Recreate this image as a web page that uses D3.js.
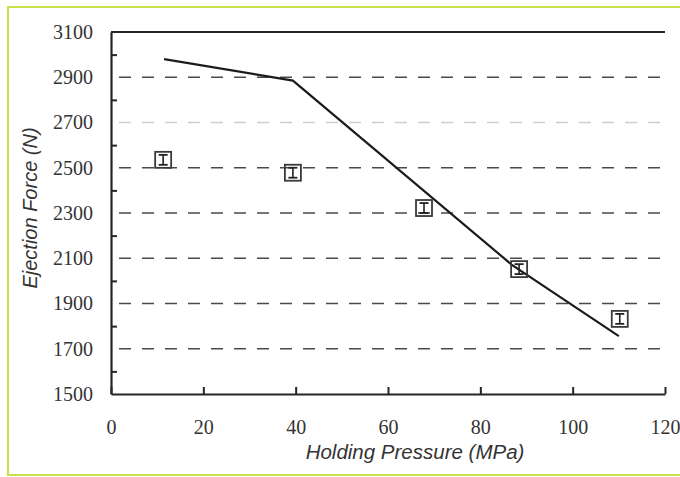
<!DOCTYPE html>
<html>
<head>
<meta charset="utf-8">
<script src="https://cdn.jsdelivr.net/npm/d3@7"></script>
<style>
  body { margin: 0; background: #fff; }
</style>
</head>
<body>
<div id="chart"></div>
<script>
// measured points (holding pressure MPa, ejection force N, error +/-)
var pressure = [11.3, 39.4, 67.8, 88.4, 110.2];
var force = [2535, 2478, 2322, 2052, 1832];
var forceErr = [22, 22, 22, 22, 22];

// fitted line
var lineX = [11.5, 39.4, 87, 110];
var lineY = [2980, 2885, 2068, 1756];

var yTicks = [1500, 1700, 1900, 2100, 2300, 2500, 2700, 2900, 3100];
var yMinor = [1600, 1800, 2000, 2200, 2400, 2600, 2800, 3000];
var xTicks = [0, 20, 40, 60, 80, 100, 120];
var gridVals = [1700, 1900, 2100, 2300, 2500, 2700, 2900];

drawChart();
function drawChart(){
    var W = 680, H = 477;
    var margin = {top: 32, right: 15, bottom: 83, left: 111},
    width = W - margin.left - margin.right,
    height = H - margin.top - margin.bottom;

    var root = d3.select("#chart")
      .append("svg")
        .attr("width", W)
        .attr("height", H);

    // greenish page border
    root.append("rect")
        .attr("x", 8).attr("y", 7)
        .attr("width", W + 10).attr("height", H - 9)
        .attr("fill", "none")
        .attr("stroke", "#c5e04a")
        .attr("stroke-width", 2);

    var svg = root.append("g")
        .attr("transform", "translate(" + margin.left + "," + margin.top + ")");

    var x = d3.scaleLinear().domain([0, 120]).range([0, width]);
    var y = d3.scaleLinear().domain([1500, 3100]).range([height, 0]);

    // dashed gridlines
    svg.append("g")
        .selectAll("line")
        .data(gridVals)
        .enter()
        .append("line")
        .attr("x1", 0).attr("x2", width)
        .attr("y1", function(d){ return y(d); })
        .attr("y2", function(d){ return y(d); })
        .attr("stroke", function(d){ return d == 2700 ? "#c9ced8" : "#4a4a4a"; })
        .attr("stroke-width", 1.3)
        .attr("stroke-dasharray", "12,11")
        .attr("stroke-dashoffset", -8);

    // top line at 3100
    svg.append("line")
        .attr("x1", 0).attr("x2", width)
        .attr("y1", y(3100)).attr("y2", y(3100))
        .attr("stroke", "#2a2424").attr("stroke-width", 2.2);

    // X axis (ticks point up)
    var xAxis = svg.append("g")
        .attr("transform", "translate(0," + height + ")")
        .call(d3.axisBottom(x).tickValues(xTicks).tickSize(-7).tickPadding(33).tickSizeOuter(0));

    // Y axis (major ticks hidden, minor ticks point inward)
    var yAxis = svg.append("g")
        .call(d3.axisLeft(y).tickValues(yTicks).tickFormat(d3.format("d")).tickSize(0).tickPadding(18));

    svg.append("g")
        .call(d3.axisLeft(y).tickValues(yMinor).tickSize(-6).tickFormat(""))
        .call(function(g){ g.select(".domain").remove(); });

    svg.selectAll(".domain")
        .attr("stroke", "#2a2424").attr("stroke-width", 2.2);
    svg.selectAll(".tick line")
        .attr("stroke", "#2a2424").attr("stroke-width", 2);

    svg.selectAll(".tick text")
        .attr("font-family", "'Liberation Serif', 'Times New Roman', serif")
        .attr("font-size", 20)
        .attr("fill", "#333");
    xAxis.selectAll(".tick text").attr("dy", "0.35em");

    // fitted line
    var pts = lineX.map(function(d, i){ return [d, lineY[i]]; });
    svg.append("path")
        .datum(pts)
        .attr("fill", "none")
        .attr("stroke", "#1c1c1c")
        .attr("stroke-width", 2.2)
        .attr("d", d3.line()
            .x(function(d){ return x(d[0]); })
            .y(function(d){ return y(d[1]); }));

    // markers: open square with error bar inside
    var data = pressure.map(function(d, i){ return {p: d, f: force[i], e: forceErr[i]}; });
    var m = svg.append("g")
        .selectAll("g")
        .data(data)
        .enter()
        .append("g")
        .attr("transform", function(d){ return "translate(" + x(d.p) + "," + y(d.f) + ")"; });

    m.append("rect")
        .attr("x", -8).attr("y", -8)
        .attr("width", 16).attr("height", 16)
        .attr("fill", "none")
        .attr("stroke", "#3a3a3a")
        .attr("stroke-width", 1.8);

    m.append("line")
        .attr("x1", 0).attr("x2", 0)
        .attr("y1", function(d){ return y(d.f + d.e) - y(d.f); })
        .attr("y2", function(d){ return y(d.f - d.e) - y(d.f); })
        .attr("stroke", "#222").attr("stroke-width", 1.6);
    m.selectAll(".cap")
        .data(function(d){ return [d.f + d.e, d.f - d.e].map(function(v){ return v - d.f; }); })
        .enter()
        .append("line")
        .attr("x1", -4.5).attr("x2", 4.5)
        .attr("y1", function(v){ return y(1500 + v) - y(1500); })
        .attr("y2", function(v){ return y(1500 + v) - y(1500); })
        .attr("stroke", "#222").attr("stroke-width", 1.8);

    // axis titles
    root.append("text")
        .attr("text-anchor", "middle")
        .attr("transform", "translate(37,208)rotate(-90)")
        .attr("font-family", "'Liberation Sans', Arial, sans-serif")
        .attr("font-style", "italic")
        .attr("font-size", 20)
        .attr("fill", "#333")
        .text("Ejection Force (N)");

    root.append("text")
        .attr("text-anchor", "middle")
        .attr("x", 415).attr("y", 459)
        .attr("font-family", "'Liberation Sans', Arial, sans-serif")
        .attr("font-style", "italic")
        .attr("font-size", 20.5)
        .attr("fill", "#333")
        .text("Holding Pressure (MPa)");
}
</script>
</body>
</html>
